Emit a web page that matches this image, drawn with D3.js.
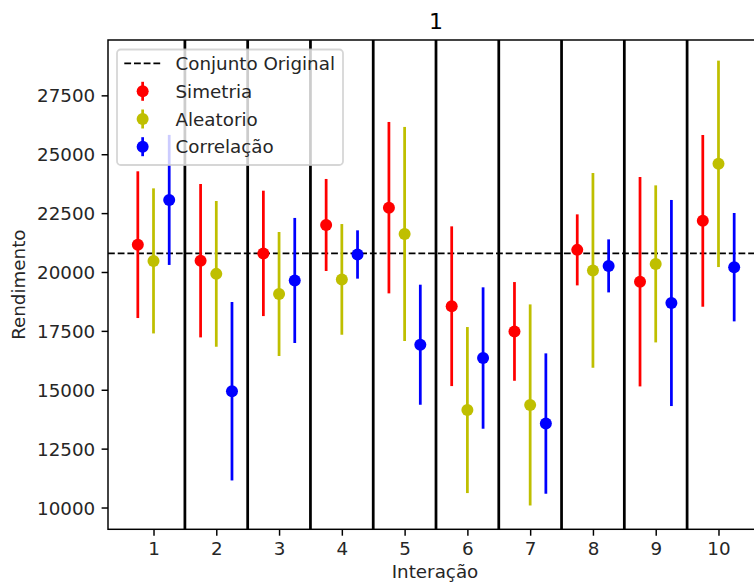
<!DOCTYPE html>
<html>
<head>
<meta charset="utf-8">
<script src="https://cdn.jsdelivr.net/npm/d3@7"></script>
<style>
  html, body { margin: 0; padding: 0; background: #fff; }
  svg { display: block; font-family: "DejaVu Sans", sans-serif; }
</style>
</head>
<body>
<svg id="chart" width="754" height="584"></svg>
<script>
// ---- data ----
const iterations = [1, 2, 3, 4, 5, 6, 7, 8, 9, 10];
const simetria     = [21160, 20480, 20790, 21996, 22731, 18547, 17477, 20939, 19588, 22171];
const simetriaErr  = [3115, 3257, 2662, 1954, 3639, 3391, 2096, 1508, 4446, 3646];
const aleatorio    = [20471, 19920, 19065, 19686, 21614, 14138, 14355, 20068, 20344, 24592];
const aleatorioErr = [3080, 3094, 2633, 2350, 4545, 3525, 4269, 4134, 3334, 4382];
const correlacao    = [23060, 14937, 19640, 20743, 16912, 16347, 13565, 20259, 18683, 20204];
const correlacaoErr = [2761, 3788, 2655, 1026, 2549, 3002, 2980, 1126, 4375, 2301];
const conjuntoOriginal = 20790;
const yTicks = [10000, 12500, 15000, 17500, 20000, 22500, 25000, 27500];
const seriesNames = ["Simetria", "Aleatorio", "Correlação"];
const seriesColors = ["#ff0000", "#bfbf00", "#0000ff"];
const seriesOffsets = [-0.25, 0, 0.25];

// ---- layout ----
const svg = d3.select("#chart");
const L = 108, R = 764, T = 40, B = 529.3;
const FS = 18.3;
const x = d3.scaleLinear().domain([0.275, 10.725]).range([L, R]);
const y = d3.scaleLinear().domain([9075, 29850]).range([B, T]);

svg.append("rect").attr("width", 754).attr("height", 584).attr("fill", "#fff");

const plot = svg.append("g");

// original-set dashed line
plot.append("line")
  .attr("x1", L).attr("x2", R)
  .attr("y1", y(conjuntoOriginal)).attr("y2", y(conjuntoOriginal))
  .attr("stroke", "#000").attr("stroke-width", 1.83)
  .attr("stroke-dasharray", "6.8,2.9");

// separators
plot.selectAll("line.sep").data(iterations.slice(0, -1)).enter().append("line")
  .attr("class", "sep")
  .attr("x1", d => x(d + 0.5)).attr("x2", d => x(d + 0.5))
  .attr("y1", T).attr("y2", B)
  .attr("stroke", "#000").attr("stroke-width", 2.75);

// error bars
const series = [
  {vals: simetria, errs: simetriaErr},
  {vals: aleatorio, errs: aleatorioErr},
  {vals: correlacao, errs: correlacaoErr}
];
series.forEach((s, si) => {
  const g = plot.append("g");
  const data = iterations.map((it, i) => ({it, v: s.vals[i], e: s.errs[i]}));
  g.selectAll("line").data(data).enter().append("line")
    .attr("x1", d => x(d.it + seriesOffsets[si])).attr("x2", d => x(d.it + seriesOffsets[si]))
    .attr("y1", d => y(d.v - d.e)).attr("y2", d => y(d.v + d.e))
    .attr("stroke", seriesColors[si]).attr("stroke-width", 2.75);
  g.selectAll("circle").data(data).enter().append("circle")
    .attr("cx", d => x(d.it + seriesOffsets[si])).attr("cy", d => y(d.v))
    .attr("r", 6).attr("fill", seriesColors[si]);
});

// spines
const spines = svg.append("g").attr("stroke", "#000").attr("stroke-width", 1.47).attr("fill", "none");
spines.append("rect").attr("x", L).attr("y", T).attr("width", R - L).attr("height", B - T);

// axes
const xAxis = d3.axisBottom(x).tickValues(iterations).tickFormat(d3.format("d"))
  .tickSize(6.4).tickPadding(5.5);
const gx = svg.append("g").attr("transform", `translate(0,${B})`).call(xAxis);
const yAxis = d3.axisLeft(y).tickValues(yTicks).tickFormat(d3.format("d"))
  .tickSize(6.4).tickPadding(6.4);
const gy = svg.append("g").attr("transform", `translate(${L},0)`).call(yAxis);
[gx, gy].forEach(g => {
  g.select(".domain").remove();
  g.selectAll(".tick line").attr("stroke", "#000").attr("stroke-width", 1.47);
  g.selectAll(".tick text").attr("fill", "#262626").style("font-size", FS + "px")
    .style("font-family", "DejaVu Sans");
});
gx.selectAll(".tick text").attr("dy", "0.76em");
gy.selectAll(".tick text").attr("dy", "0.36em");

// labels
svg.append("text").attr("x", 435).attr("y", 578)
  .attr("text-anchor", "middle").style("font-size", FS + "px").attr("fill", "#262626")
  .text("Interação");
svg.append("text").attr("transform", `translate(25,${(T + B) / 2}) rotate(-90)`)
  .attr("text-anchor", "middle").style("font-size", FS + "px").attr("fill", "#262626")
  .text("Rendimento");
svg.append("text").attr("x", 436).attr("y", 28.5)
  .attr("text-anchor", "middle").style("font-size", "22px").attr("fill", "#000")
  .text("1");

// legend
const lg = svg.append("g");
lg.append("rect").attr("x", 117).attr("y", 49.5).attr("width", 226).attr("height", 115.5)
  .attr("rx", 3.7).attr("fill", "#fff").attr("fill-opacity", 0.8)
  .attr("stroke", "#cccccc").attr("stroke-opacity", 0.8).attr("stroke-width", 1.8);
const rowY = [63.3, 91.3, 119.0, 146.7];
const hx0 = 124.3, hx1 = 161, hxc = (hx0 + hx1) / 2, tx = 175.5;
lg.append("line").attr("x1", hx0).attr("x2", hx1).attr("y1", rowY[0]).attr("y2", rowY[0])
  .attr("stroke", "#000").attr("stroke-width", 1.83).attr("stroke-dasharray", "6.8,2.9");
lg.append("text").attr("x", tx).attr("y", rowY[0]).attr("dy", "0.36em")
  .style("font-size", FS + "px").attr("fill", "#262626").text("Conjunto Original");
seriesNames.forEach((name, i) => {
  const cy = rowY[i + 1];
  lg.append("line").attr("x1", hxc).attr("x2", hxc).attr("y1", cy - 9.5).attr("y2", cy + 9.5)
    .attr("stroke", seriesColors[i]).attr("stroke-width", 2.75);
  lg.append("circle").attr("cx", hxc).attr("cy", cy).attr("r", 6).attr("fill", seriesColors[i]);
  lg.append("text").attr("x", tx).attr("y", cy).attr("dy", "0.36em")
    .style("font-size", FS + "px").attr("fill", "#262626").text(name);
});
</script>
</body>
</html>
